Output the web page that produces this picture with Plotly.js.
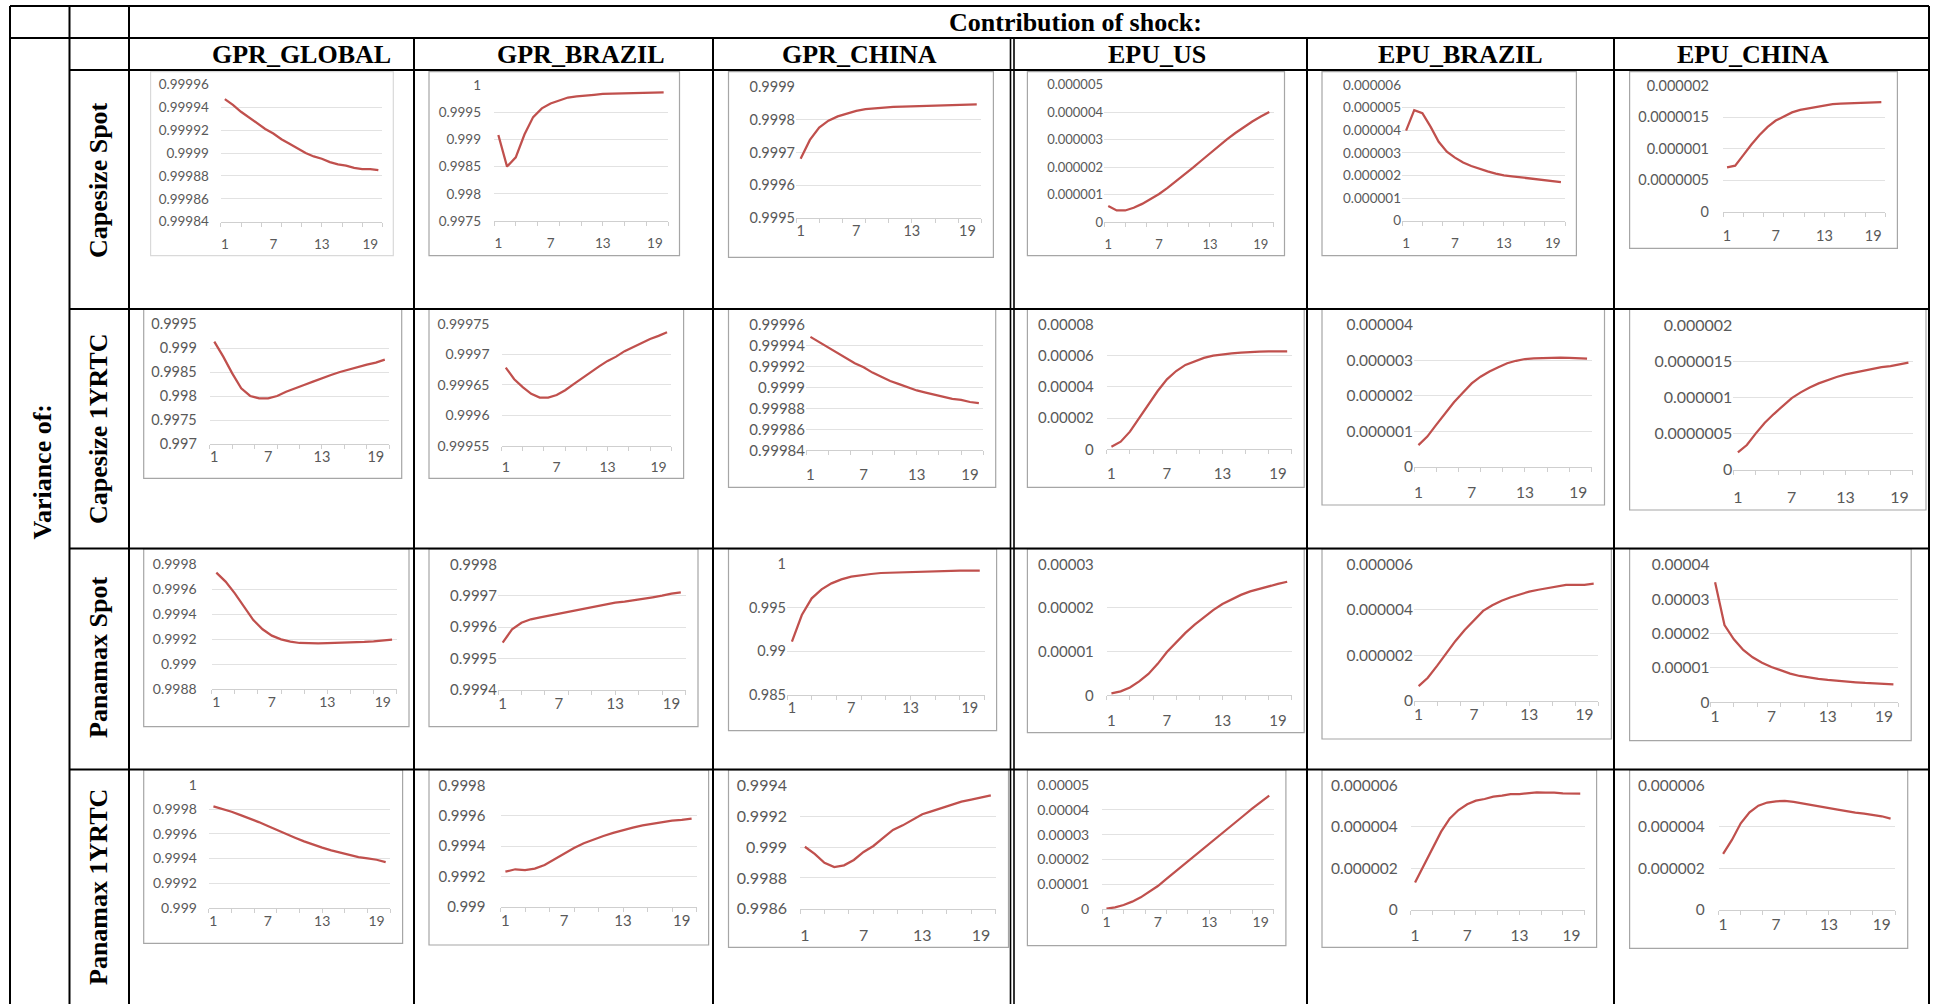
<!DOCTYPE html>
<html>
<head>
<meta charset="utf-8">
<script src="https://cdn.plot.ly/plotly-3.0.1.min.js"></script>
<style>
html,body{margin:0;padding:0;background:#fff;}
#chart{width:1939px;height:1004px;}
</style>
</head>
<body>
<div id="chart"></div>
<script>
// ---------- data ----------
const periods = [1,2,3,4,5,6,7,8,9,10,11,12,13,14,15,16,17,18,19,20];
const xTickLabels = [1,7,13,19];
const xTickMarks = [0.5,3,5.5,8,10.5,13,15.5,18,20.5];
const shocks = ["GPR_GLOBAL","GPR_BRAZIL","GPR_CHINA","EPU_US","EPU_BRAZIL","EPU_CHINA"];
const variables = ["Capesize Spot","Capesize 1YRTC","Panamax Spot","Panamax 1YRTC"];
const headerTitle = "Contribution of shock:";
const sideTitle = "Variance of:";

// Capesize Spot
const capesizeSpot_GPR_GLOBAL = [0.999947,0.999942,0.999936,0.999931,0.999926,0.999921,0.999917,0.999912,0.999908,0.999904,0.9999,0.999897,0.999895,0.999892,0.99989,0.999889,0.999887,0.999886,0.999886,0.999885];
const capesizeSpot_GPR_BRAZIL = [0.99908,0.9985,0.99867,0.99909,0.99941,0.99957,0.99966,0.99972,0.99977,0.99979,0.99981,0.99982,0.999835,0.99984,0.999847,0.99985,0.999853,0.999856,0.999859,0.999865];
const capesizeSpot_GPR_CHINA = [0.999681,0.999739,0.999777,0.999798,0.999811,0.99982,0.999828,0.999833,0.999836,0.999838,0.99984,0.999841,0.999842,0.999843,0.999844,0.999845,0.999846,0.9998465,0.999847,0.999848];
const capesizeSpot_EPU_US = [0.58e-6,0.42e-6,0.42e-6,0.52e-6,0.66e-6,0.83e-6,1.02e-6,1.24e-6,1.48e-6,1.73e-6,1.98e-6,2.24e-6,2.50e-6,2.76e-6,3.01e-6,3.24e-6,3.46e-6,3.66e-6,3.84e-6,4.01e-6];
const capesizeSpot_EPU_BRAZIL = [3.98e-6,4.89e-6,4.75e-6,4.16e-6,3.49e-6,3.05e-6,2.79e-6,2.57e-6,2.42e-6,2.29e-6,2.18e-6,2.08e-6,2.0e-6,1.96e-6,1.92e-6,1.87e-6,1.83e-6,1.78e-6,1.75e-6,1.71e-6];
const capesizeSpot_EPU_CHINA = [0.706e-6,0.732e-6,0.90e-6,1.07e-6,1.22e-6,1.35e-6,1.45e-6,1.52e-6,1.58e-6,1.62e-6,1.645e-6,1.67e-6,1.69e-6,1.71e-6,1.72e-6,1.724e-6,1.73e-6,1.732e-6,1.735e-6,1.745e-6];

// Capesize 1YRTC
const capesize1YRTC_GPR_GLOBAL = [0.999138,0.998825,0.998476,0.998163,0.998003,0.997954,0.997954,0.998003,0.998093,0.998156,0.998233,0.998302,0.998379,0.998442,0.998504,0.99856,0.998616,0.998657,0.998699,0.998762];
const capesize1YRTC_GPR_BRAZIL = [0.999678,0.999659,0.999646,0.999635,0.999629,0.999629,0.999633,0.999641,0.999651,0.999661,0.999671,0.99968,0.999689,0.999696,0.999705,0.999712,0.999719,0.999725,0.99973,0.999736];
const capesize1YRTC_GPR_CHINA = [0.999948,0.999943,0.999938,0.999933,0.999928,0.999923,0.999919,0.999914,0.99991,0.999906,0.999903,0.9999,0.999897,0.999895,0.999893,0.999891,0.999889,0.999888,0.999886,0.999885];
const capesize1YRTC_EPU_US = [1.7e-6,4.9e-6,11.3e-6,19.8e-6,28.8e-6,37.3e-6,44.8e-6,50.1e-6,54.0e-6,56.5e-6,58.5e-6,59.9e-6,60.8e-6,61.4e-6,61.9e-6,62.3e-6,62.5e-6,62.6e-6,62.7e-6,62.7e-6];
const capesize1YRTC_EPU_BRAZIL = [0.61e-6,0.85e-6,1.18e-6,1.51e-6,1.82e-6,2.09e-6,2.35e-6,2.54e-6,2.69e-6,2.81e-6,2.92e-6,2.99e-6,3.04e-6,3.06e-6,3.07e-6,3.08e-6,3.08e-6,3.07e-6,3.07e-6,3.05e-6];
const capesize1YRTC_EPU_CHINA = [0.24e-6,0.343e-6,0.505e-6,0.653e-6,0.773e-6,0.884e-6,0.995e-6,1.074e-6,1.143e-6,1.199e-6,1.245e-6,1.287e-6,1.324e-6,1.352e-6,1.38e-6,1.407e-6,1.426e-6,1.44e-6,1.458e-6,1.486e-6];

// Panamax Spot
const panamaxSpot_GPR_GLOBAL = [0.999733,0.999661,0.999567,0.99946,0.999353,0.999279,0.999228,0.999198,0.99918,0.999169,0.999166,0.999166,0.999168,0.999169,0.99917,0.999173,0.999177,0.999181,0.999188,0.999196];
const panamaxSpot_GPR_BRAZIL = [0.999551,0.999593,0.999614,0.999625,0.999631,0.999637,0.999642,0.999648,0.999654,0.999659,0.999665,0.999673,0.999678,0.999681,0.999685,0.99969,0.999695,0.9997,0.999707,0.999711];
const panamaxSpot_GPR_CHINA = [0.991107,0.99416,0.996069,0.997099,0.997786,0.998244,0.99855,0.99874,0.998855,0.99897,0.999008,0.999065,0.999122,0.999141,0.99916,0.999198,0.999218,0.999237,0.999237,0.999237];
const panamaxSpot_EPU_US = [0.45e-6,0.9e-6,1.8e-6,3.2e-6,4.9e-6,7.2e-6,9.9e-6,12.2e-6,14.3e-6,16.2e-6,17.9e-6,19.5e-6,20.9e-6,22.0e-6,23.0e-6,23.8e-6,24.4e-6,25.0e-6,25.5e-6,26.0e-6];
const panamaxSpot_EPU_BRAZIL = [0.645e-6,1.01e-6,1.53e-6,2.08e-6,2.63e-6,3.11e-6,3.55e-6,3.95e-6,4.2e-6,4.4e-6,4.55e-6,4.68e-6,4.8e-6,4.88e-6,4.94e-6,5.02e-6,5.09e-6,5.09e-6,5.1e-6,5.15e-6];
const panamaxSpot_EPU_CHINA = [34.95e-6,22.5e-6,18.35e-6,15.24e-6,13.1e-6,11.55e-6,10.3e-6,9.22e-6,8.35e-6,7.67e-6,7.18e-6,6.8e-6,6.5e-6,6.21e-6,6.02e-6,5.83e-6,5.63e-6,5.53e-6,5.34e-6,5.24e-6];

// Panamax 1YRTC
const panamax1YRTC_GPR_GLOBAL = [0.999824,0.999805,0.99978,0.999753,0.999726,0.999696,0.999664,0.999631,0.999599,0.999569,0.999539,0.999512,0.999488,0.999466,0.999447,0.999428,0.999412,0.999401,0.99939,0.999371];
const panamax1YRTC_GPR_BRAZIL = [0.999232,0.999248,0.999243,0.999252,0.999276,0.999313,0.999353,0.999388,0.999419,0.999445,0.999467,0.999487,0.999506,0.999522,0.999537,0.999548,0.999559,0.999568,0.999572,0.999581];
const panamax1YRTC_GPR_CHINA = [0.999003,0.998956,0.998899,0.998871,0.998882,0.998917,0.998969,0.999008,0.99906,0.999112,0.999142,0.999177,0.999214,0.999235,0.999257,0.999279,0.999296,0.999309,0.999322,0.999337];
const panamax1YRTC_EPU_US = [0.13e-6,0.67e-6,1.61e-6,2.96e-6,4.7e-6,6.85e-6,9.27e-6,12.1e-6,14.9e-6,17.7e-6,20.6e-6,23.5e-6,26.3e-6,29.2e-6,32.0e-6,34.8e-6,37.6e-6,40.5e-6,43.0e-6,45.7e-6];
const panamax1YRTC_EPU_BRAZIL = [1.32e-6,2.12e-6,2.97e-6,3.77e-6,4.41e-6,4.81e-6,5.09e-6,5.26e-6,5.34e-6,5.45e-6,5.5e-6,5.58e-6,5.58e-6,5.61e-6,5.66e-6,5.65e-6,5.65e-6,5.61e-6,5.6e-6,5.6e-6];
const panamax1YRTC_EPU_CHINA = [2.7e-6,3.37e-6,4.17e-6,4.7e-6,5.02e-6,5.17e-6,5.23e-6,5.25e-6,5.2e-6,5.12e-6,5.07e-6,4.99e-6,4.89e-6,4.83e-6,4.76e-6,4.68e-6,4.64e-6,4.59e-6,4.51e-6,4.4e-6];

// ---------- layout spec (pixel positions of boxes / plot areas, axis ranges) ----------
const W = 1939, H = 1004;
const panels = [
  {d:capesizeSpot_GPR_GLOBAL,  box:[150.6,71.7,393.3,255.7], plot:[220.8,84.3,382.4,221.7], yr:[0.99984,0.99996], dt:0.00002, f:13.5, ys:11, xs:10, bc:'#d9d9d9'},
  {d:capesizeSpot_GPR_BRAZIL,  box:[429,71.7,679.5,255.7],   plot:[494,85,668,221],         yr:[0.9975,1],        dt:0.0005,  f:13.5, ys:12, xs:10},
  {d:capesizeSpot_GPR_CHINA,   box:[728.5,71.7,993.4,257.3], plot:[796,87.3,981.4,218],     yr:[0.9995,0.9999],   dt:0.0001,  f:14.5, ys:12.5, xs:12.5},
  {d:capesizeSpot_EPU_US,      box:[1027.4,71.7,1284.5,255.7], plot:[1104,84.7,1273.5,222], yr:[0,5e-6],          dt:1e-6,    f:13, ys:11.5, xs:10},
  {d:capesizeSpot_EPU_BRAZIL,  box:[1322,71.7,1576.4,255.7], plot:[1402,85,1565,220.7],     yr:[0,6e-6],          dt:1e-6,    f:13.5, ys:11.5, xs:10},
  {d:capesizeSpot_EPU_CHINA,   box:[1629.6,71.7,1897.4,248.3], plot:[1723,86,1885.4,211.7], yr:[0,2e-6],          dt:5e-7,    f:14.5, ys:13, xs:11},

  {d:capesize1YRTC_GPR_GLOBAL, box:[143.7,309,401.7,478.3],  plot:[209.8,324.3,389.3,444],   yr:[0.997,0.9995],    dt:0.0005,  f:14.5, ys:12, xs:9.5},
  {d:capesize1YRTC_GPR_BRAZIL, box:[429,309,683.6,478.3],    plot:[501.5,323.7,671.3,445.7], yr:[0.99955,0.99975], dt:0.00005, f:14, ys:11, xs:8},
  {d:capesize1YRTC_GPR_CHINA,  box:[728.5,309,995.7,487.3],  plot:[806,324.3,983.3,450.3],   yr:[0.99984,0.99996], dt:0.00002, f:15, ys:12.5, xs:11},
  {d:capesize1YRTC_EPU_US,     box:[1027.4,309,1304.2,487.3], plot:[1106.8,324.3,1291.8,449.3], yr:[0,8e-5],      dt:2e-5,    f:15, ys:12, xs:11},
  {d:capesize1YRTC_EPU_BRAZIL, box:[1322,309,1604.5,505],    plot:[1414,325,1591.5,466.7],   yr:[0,4e-6],          dt:1e-6,    f:15.5, ys:14.5, xs:12},
  {d:capesize1YRTC_EPU_CHINA,  box:[1629.6,309,1926,510],    plot:[1733.4,325.7,1912.9,469.7], yr:[0,2e-6],        dt:5e-7,    f:16, ys:14.5, xs:13},

  {d:panamaxSpot_GPR_GLOBAL,   box:[143.7,549,409,726.7],    plot:[211.7,564.3,396.7,689],   yr:[0.9988,0.9998],   dt:0.0002,  f:14, ys:14, xs:12.5},
  {d:panamaxSpot_GPR_BRAZIL,   box:[429,549,698,726.7],      plot:[498,564.3,685.5,690],     yr:[0.9994,0.9998],   dt:0.0001,  f:15, ys:11.5, xs:10.5},
  {d:panamaxSpot_GPR_CHINA,    box:[728.5,549,996.6,730.7],  plot:[787,564,984.7,695],       yr:[0.985,1],         dt:0.005,   f:14.5, ys:11.5, xs:10.5},
  {d:panamaxSpot_EPU_US,       box:[1027.4,549,1304.2,732.7], plot:[1106.8,564.3,1291.8,695.3], yr:[0,3e-5],      dt:1e-5,    f:15, ys:12, xs:12},
  {d:panamaxSpot_EPU_BRAZIL,   box:[1322,549,1611.4,739],    plot:[1414,564.3,1598.3,700.7], yr:[0,6e-6],          dt:2e-6,    f:15.5, ys:14.5, xs:11.5},
  {d:panamaxSpot_EPU_CHINA,    box:[1629.6,549,1911.2,740.7], plot:[1710.4,565,1898.1,702.3], yr:[0,4e-5],        dt:1e-5,    f:15.5, ys:12.5, xs:10.5},

  {d:panamax1YRTC_GPR_GLOBAL,  box:[143.7,770,402.6,943.3],  plot:[208.9,784.7,390.2,907.7], yr:[0.999,1],         dt:0.0002,  f:14, ys:11, xs:10.5},
  {d:panamax1YRTC_GPR_BRAZIL,  box:[429,770,708.6,945],      plot:[500.5,785.3,696.5,907],   yr:[0.999,0.9998],    dt:0.0002,  f:15, ys:14, xs:12.5},
  {d:panamax1YRTC_GPR_CHINA,   box:[728.5,770,1008.5,947.3], plot:[800,785.7,995.7,908.7],   yr:[0.9986,0.9994],   dt:0.0002,  f:16, ys:12, xs:12},
  {d:panamax1YRTC_EPU_US,      box:[1027.4,770,1285.9,945.7], plot:[1102.2,785,1273.5,909],  yr:[0,5e-5],          dt:1e-5,    f:14, ys:12, xs:11.5},
  {d:panamax1YRTC_EPU_BRAZIL,  box:[1322,770,1596.6,947.3],  plot:[1410.7,785.3,1584.6,910], yr:[0,6e-6],          dt:2e-6,    f:15.5, ys:12, xs:11},
  {d:panamax1YRTC_EPU_CHINA,   box:[1629.6,770,1907.7,948.3], plot:[1718.7,785.3,1895,910],  yr:[0,6e-6],          dt:2e-6,    f:15.5, ys:13, xs:11.5}
];

const px = x => x / W;
const py = y => 1 - y / H;

const traces = [];
const layout = {
  width: W, height: H,
  margin: {l:0, r:0, t:0, b:0, pad:0},
  paper_bgcolor: '#ffffff',
  plot_bgcolor: 'rgba(0,0,0,0)',
  showlegend: false,
  hovermode: false,
  shapes: [],
  annotations: []
};

const tickFontFamily = 'Lato, "Open Sans", sans-serif';
const labelColor = '#595959';

panels.forEach((p, i) => {
  const n = i + 1;
  const xa = n === 1 ? 'x' : 'x' + n;
  const ya = n === 1 ? 'y' : 'y' + n;
  traces.push({
    type: 'scatter', mode: 'lines',
    x: periods, y: p.d,
    xaxis: xa, yaxis: ya,
    line: {color: '#c0504d', width: 2.25},
    hoverinfo: 'skip'
  });
  layout[n === 1 ? 'xaxis' : 'xaxis' + n] = {
    domain: [px(p.plot[0]), px(p.plot[2])],
    anchor: ya,
    range: [0.5, 20.5],
    tickmode: 'array',
    tickvals: xTickLabels,
    ticktext: xTickLabels.map(String),
    ticks: '',
    showgrid: false, zeroline: false,
    showline: true, linecolor: '#cfcfcf', linewidth: 1,
    tickfont: {family: tickFontFamily, size: p.f, color: labelColor},
    ticklabelstandoff: p.xs,
    minor: {tickmode: 'array', tickvals: xTickMarks, ticks: 'outside', ticklen: 4, tickwidth: 1, tickcolor: '#cfcfcf', showgrid: false},
    fixedrange: true
  };
  layout[n === 1 ? 'yaxis' : 'yaxis' + n] = {
    domain: [py(p.plot[3]), py(p.plot[1])],
    anchor: xa,
    range: p.yr,
    tickmode: 'linear', tick0: p.yr[0], dtick: p.dt,
    tickformat: '.8~f',
    ticks: '',
    showgrid: true, gridcolor: '#e2e2e2', gridwidth: 1,
    zeroline: false, showline: false,
    tickfont: {family: tickFontFamily, size: p.f, color: labelColor},
    ticklabelstandoff: p.ys,
    fixedrange: true
  };
  layout.shapes.push({
    type: 'rect', xref: 'paper', yref: 'paper', layer: 'below',
    x0: px(p.box[0]), y0: py(p.box[3]), x1: px(p.box[2]), y1: py(p.box[1]),
    line: {color: p.bc || '#a6a6a6', width: 1.2},
    fillcolor: 'rgba(0,0,0,0)'
  });
});

// table grid lines
function tline(x0, y0, x1, y1, w) {
  layout.shapes.push({
    type: 'line', xref: 'paper', yref: 'paper', layer: 'above',
    x0: px(x0), y0: py(y0), x1: px(x1), y1: py(y1),
    line: {color: '#000000', width: w || 2}
  });
}
tline(10, 6, 1929, 6);
tline(10, 38, 1929, 38);
tline(69.5, 70, 1929, 70);
tline(69.5, 309, 1929, 309);
tline(69.5, 548.5, 1929, 548.5);
tline(69.5, 769.5, 1929, 769.5);
tline(10, 6, 10, 1004);
tline(69.5, 6, 69.5, 1004);
tline(129, 6, 129, 1004);
tline(414, 38, 414, 1004);
tline(713, 38, 713, 1004);
tline(1010.5, 38, 1010.5, 1004, 1.6);
tline(1014, 38, 1014, 1004, 1.6);
tline(1307, 38, 1307, 1004);
tline(1614, 38, 1614, 1004);
tline(1929, 6, 1929, 1004);

// header texts
const serif = '"Liberation Serif", "Times New Roman", serif';
function ann(text, x, y, size, angle) {
  layout.annotations.push({
    text: '<b>' + text + '</b>', xref: 'paper', yref: 'paper',
    x: px(x), y: py(y), xanchor: 'center', yanchor: 'middle',
    showarrow: false, textangle: angle || 0,
    font: {family: serif, size: size, color: '#000000'}
  });
}
ann(headerTitle, 1075, 22.5, 26);
const shockCenters = [301, 581, 859, 1157, 1460, 1753];
shocks.forEach((s, i) => ann(s, shockCenters[i], 55, 26));
const varCenters = [180, 429, 658, 887];
variables.forEach((v, i) => ann(v, 98, varCenters[i], 26, -90));
ann(sideTitle, 41.5, 472, 26, -90);

Plotly.newPlot('chart', traces, layout, {staticPlot: true, displayModeBar: false});
</script>
</body>
</html>
